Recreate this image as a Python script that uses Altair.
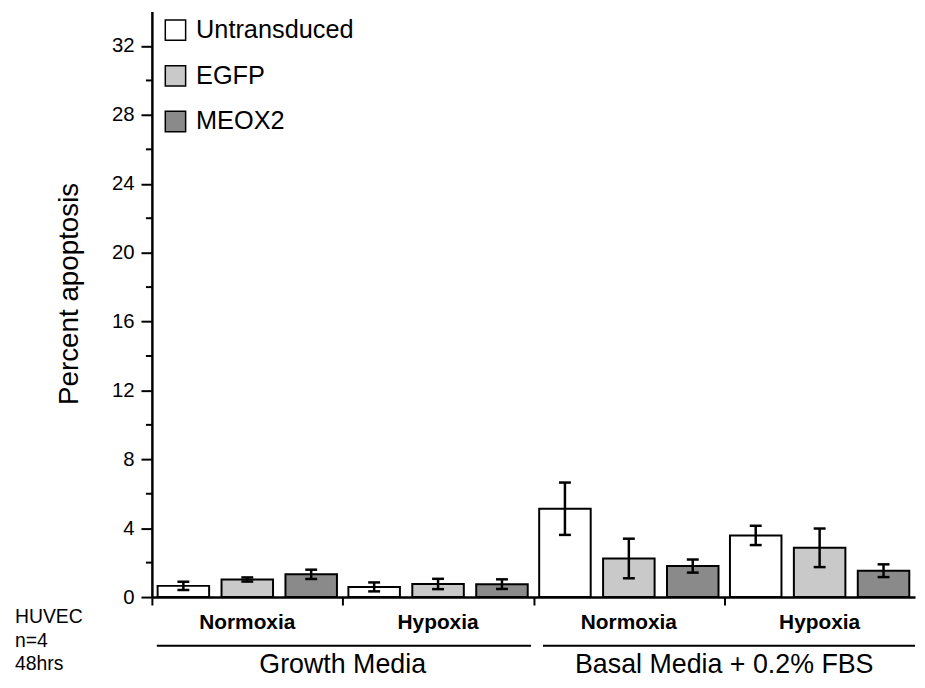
import altair as alt
import pandas as pd

# ---- data ----
conditions = ["Normoxia", "Hypoxia", "Normoxia", "Hypoxia"]
media = ["Growth Media", "Basal Media + 0.2% FBS"]
series = ["Untransduced", "EGFP", "MEOX2"]

untransduced = [0.65, 0.59, 5.13, 3.58]
untransduced_err = [0.24, 0.26, 1.52, 0.56]
egfp = [1.02, 0.76, 2.24, 2.86]
egfp_err = [0.12, 0.30, 1.15, 1.12]
meox2 = [1.32, 0.75, 1.80, 1.53]
meox2_err = [0.27, 0.28, 0.38, 0.37]

y_major = [0, 4, 8, 12, 16, 20, 24, 28, 32]
y_minor = [2, 6, 10, 14, 18, 22, 26, 30]
x_ticks = [0, 1, 2, 3]
study_note = ["HUVEC\nn=4\n48hrs"]

colors = ["#ffffff", "#c9c9c9", "#8a8a8a"]

# ---- tables ----
rows = []
for i, cond in enumerate(conditions):
    for k, (name, vals, errs) in enumerate(
        zip(series, [untransduced, egfp, meox2], [untransduced_err, egfp_err, meox2_err])
    ):
        rows.append(dict(slot=i, idx=k, series=name, value=vals[i], err=errs[i]))
df = pd.DataFrame(rows)

cond_df = pd.DataFrame({"slot": list(range(len(conditions))), "label": conditions})
media_df = pd.DataFrame({"grp": list(range(len(media))), "label": media})

BAR_START, BAR_STEP, BAR_W = 0.03, 0.335, 0.27

xs = alt.Scale(domain=[0, 4], nice=False, zero=False)
ys = alt.Scale(domain=[0, 34], nice=False)

base = alt.Chart(df).transform_calculate(
    x0=f"datum.slot + {BAR_START} + {BAR_STEP} * datum.idx",
    x1=f"datum.slot + {BAR_START} + {BAR_STEP} * datum.idx + {BAR_W}",
    xc=f"datum.slot + {BAR_START} + {BAR_STEP} * datum.idx + {BAR_W / 2}",
    lo="datum.value - datum.err",
    hi="datum.value + datum.err",
)

yaxis = alt.Axis(
    values=y_major, title="Percent apoptosis", titleFontSize=28, titleFontWeight="normal",
    titleColor="black", titleX=-75, titleY=284, titleBaseline="alphabetic",
    labelFontSize=20.5, labelColor="black", labelPadding=7, tickSize=11, tickWidth=2,
    tickColor="black", domainColor="black", domainWidth=2.5, grid=False,
)
xaxis = alt.Axis(
    values=x_ticks, labels=False, title=None, tickSize=8, tickWidth=2, tickColor="black",
    domainColor="black", domainWidth=2.5, grid=False,
)

bars = base.mark_rect(stroke="black", strokeWidth=2).encode(
    x=alt.X("x0:Q", scale=xs, axis=xaxis),
    x2="x1:Q",
    y=alt.Y("value:Q", scale=ys, axis=yaxis),
    y2=alt.datum(0),
    fill=alt.Fill(
        "series:N",
        scale=alt.Scale(domain=series, range=colors),
        legend=alt.Legend(
            orient="none", legendX=11, legendY=6, title=None, symbolType="square",
            symbolSize=420, symbolStrokeColor="black", symbolStrokeWidth=1.5,
            symbolOpacity=1, labelFontSize=25.5, labelOffset=8, rowPadding=18,
            labelColor="black", labelLimit=400,
        ),
    ),
)

err_rule = base.mark_rule(strokeWidth=2.5, color="black").encode(
    x=alt.X("xc:Q", scale=xs, axis=xaxis), y=alt.Y("lo:Q", scale=ys, axis=yaxis), y2="hi:Q"
)
caps = base.transform_fold(["lo", "hi"], as_=["end", "capy"]).mark_tick(
    orient="horizontal", size=12, thickness=2.5, color="black", opacity=1
).encode(x=alt.X("xc:Q", scale=xs, axis=xaxis), y=alt.Y("capy:Q", scale=ys, axis=yaxis))

minor = alt.Chart(pd.DataFrame({"v": y_minor})).mark_rule(strokeWidth=2, color="black").encode(
    y=alt.Y("v:Q", scale=ys, axis=yaxis), x=alt.value(-6), x2=alt.value(0)
)

cond_text = alt.Chart(cond_df).transform_calculate(c="datum.slot + 0.5").mark_text(
    fontSize=21, fontWeight="bold", baseline="alphabetic", color="black"
).encode(x=alt.X("c:Q", scale=xs, axis=xaxis), y=alt.value(622), text="label:N")

media_lines = alt.Chart(media_df).transform_calculate(
    a="datum.grp * 2 + (datum.grp == 0 ? 0.026 : 0.05)",
    b="datum.grp * 2 + (datum.grp == 0 ? 1.987 : 2.0)",
).mark_rule(strokeWidth=2, color="black").encode(
    x=alt.X("a:Q", scale=xs, axis=xaxis), x2="b:Q", y=alt.value(639)
)

media_text = alt.Chart(media_df).transform_calculate(c="datum.grp * 2 + 1").mark_text(
    fontSize=27, baseline="alphabetic", color="black"
).encode(x=alt.X("c:Q", scale=xs, axis=xaxis), y=alt.value(667), text="label:N")

note = alt.Chart(pd.DataFrame({"t": study_note})).mark_text(
    fontSize=19.5, align="left", baseline="alphabetic", lineBreak="\n", lineHeight=24,
    color="black",
).encode(x=alt.value(-138), y=alt.value(616), text="t:N")

chart = (
    alt.layer(bars, err_rule, caps, minor, cond_text, media_lines, media_text, note)
    .properties(
        width=769, height=590,
        autosize=alt.AutoSizeParams(type="none"),
        padding={"left": 145, "top": 1, "right": 2, "bottom": 84},
    )
    .configure(font="Liberation Sans")
    .configure_view(stroke=None)
)

chart.save("out.html", embed_options={"renderer": "svg", "actions": False})
